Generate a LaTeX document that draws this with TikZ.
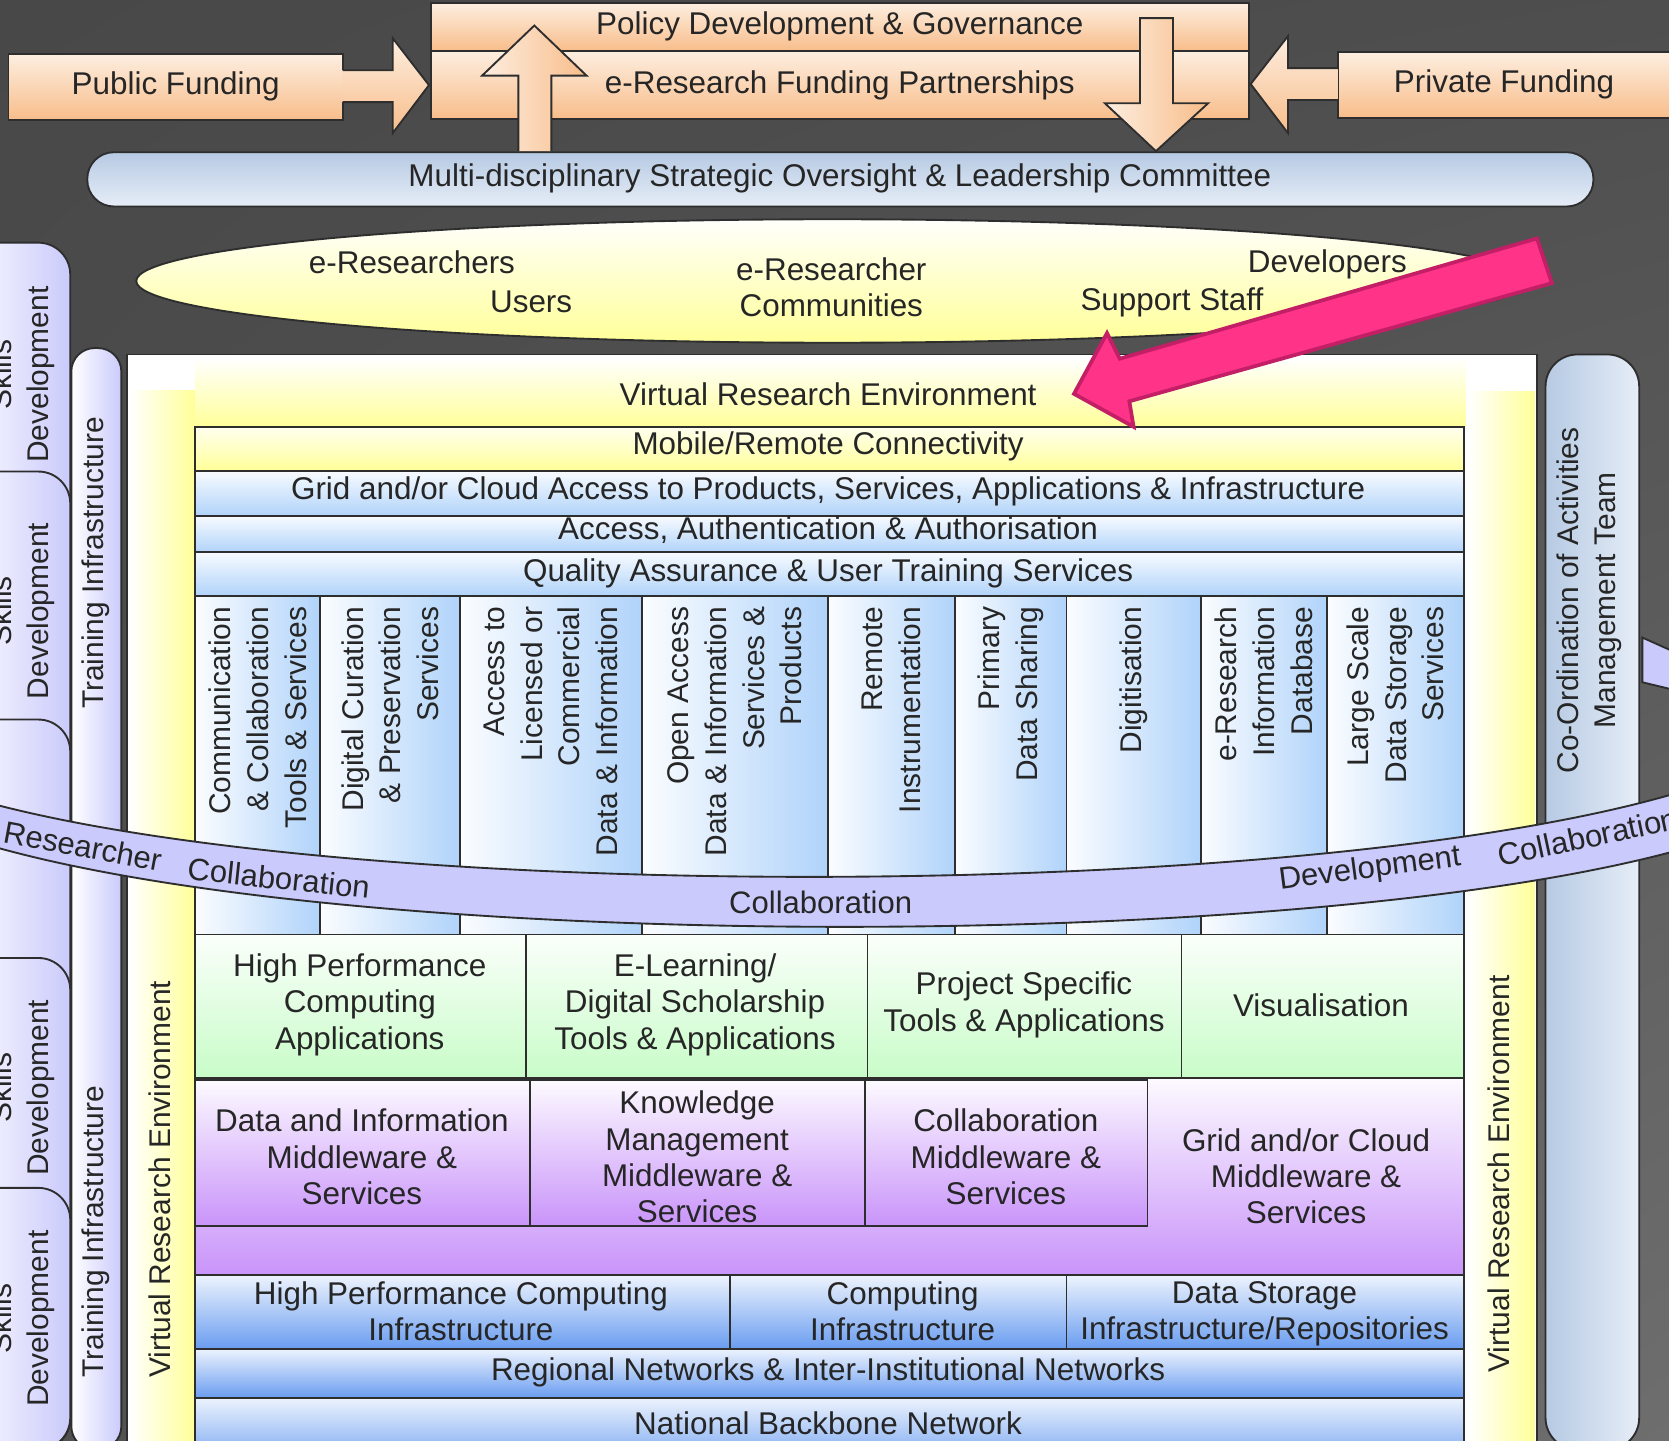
\documentclass[tikz,border=0pt]{standalone}
\usepackage{fontspec}
\setmainfont{Liberation Sans}
\usetikzlibrary{positioning, shadings}

\definecolor{bgdark}{HTML}{484848}
\definecolor{bgpale}{HTML}{6E6E6E}
\definecolor{peach}{HTML}{F8BD8A}
\definecolor{peachlight}{HTML}{FDEEE0}
\definecolor{steel}{HTML}{B6CAE3}
\definecolor{steellight}{HTML}{E6EDF7}
\definecolor{lemon}{HTML}{FFFF99}
\definecolor{sky}{HTML}{B0D3FA}
\definecolor{mint}{HTML}{C8FCC8}
\definecolor{lilac}{HTML}{C994FA}
\definecolor{cobalt}{HTML}{6A9DF0}
\definecolor{lavender}{HTML}{CACAFC}
\definecolor{hotpink}{HTML}{FF3388}
\definecolor{hotpinkdark}{HTML}{C21F66}
\definecolor{ink}{HTML}{262626}
\definecolor{edge}{HTML}{2E2E2E}

\newcommand{\boxfont}{\fontsize{8.4}{9.7}\selectfont}
\newcommand{\colfont}{\fontsize{8}{10.1}\selectfont}
\newcommand{\bandfont}{\fontsize{8.3}{9.7}\selectfont}

\begin{document}
\begin{tikzpicture}[
    x=0.1mm, y=-0.1mm,
    font=\boxfont, text=ink,
    edged/.style={draw=edge, line width=0.5pt},
    peachbox/.style={edged, top color=peachlight, bottom color=peach},
    steelbar/.style={edged, top color=steel, bottom color=steellight},
    lemonbox/.style={edged, top color=white!85!lemon, bottom color=lemon},
    skybox/.style={edged, top color=white!90!sky, bottom color=sky},
    colbox/.style={edged, left color=white!95!sky, right color=sky},
    mintbox/.style={edged, top color=white!92!mint, bottom color=mint},
    lilacbox/.style={edged, top color=white!95!lilac, bottom color=lilac},
    cobaltbox/.style={edged, top color=white!88!cobalt, bottom color=cobalt},
    lavstrip/.style={edged, left color=white, right color=lavender},
    boxtext/.style={align=center, inner sep=1pt},
    collabel/.style={rotate=90, anchor=east, align=right, font=\colfont, inner sep=1pt},
    sidelabel/.style={rotate=90, align=center, font=\colfont, inner sep=1pt},
    bandlabel/.style={font=\bandfont, inner sep=0pt}
]
    \useasboundingbox (0,0) rectangle (1568,1353);
    % --- Background ---
    \shade[upper left=bgdark, upper right=bgdark!85!bgpale,
           lower left=bgdark!80!bgpale, lower right=bgpale] (0,0) rectangle (1568,1353);

    % --- Skills development tabs and training strip (left) ---
    \foreach \ytop in {228,443,676,900,1116} {
        \draw[lavstrip, rounded corners=3mm] (-40,\ytop) rectangle (66,1362);
    }
    \node[sidelabel] (skills1) at (21,352) {Skills\\Development};
    \node[sidelabel] (skills2) at (21,574) {Skills\\Development};
    \node[sidelabel] (skills4) at (21,1022) {Skills\\Development};
    \node[sidelabel] (skills5) at (21,1239) {Skills\\Development};
    \draw[lavstrip, rounded corners=2.2mm] (67,327) rectangle (114,1362);
    \node[sidelabel] (train1) at (90,529) {Training Infrastructure};
    \node[sidelabel] (train2) at (90,1157) {Training Infrastructure};

    % --- Co-ordination strip (right) ---
    \draw[edged, left color=steel, right color=steellight, rounded corners=3mm] (1452,333) rectangle (1540,1362);
    \node[sidelabel] (coord) at (1493,564) {Co-Ordination of Activities\\Management Team};
    \draw[edged, fill=lavender] (1543,599) -- (1572,612) -- (1572,648) -- (1543,641) -- cycle;

    % --- Virtual Research Environment frame ---
    \draw[edged, fill=white] (119,333) rectangle (1444,1380);
    \shade[top color=white, bottom color=lemon] (183,336) rectangle (1377,401);
    \shade[left color=white, right color=lemon] (121,367) rectangle (183,1380);
    \shade[left color=white, right color=lemon] (1379,368) rectangle (1442,1380);
    \node (vre) at (778,370) {Virtual Research Environment};
    \node[sidelabel] (vreleft) at (150,1108) {Virtual Research Environment};
    \node[sidelabel] (vreright) at (1408,1103) {Virtual Research Environment};

    % --- Horizontal service layers ---
    \draw[lemonbox] (183,401) rectangle (1375,442);
    \node (mobile) at (778,419) {Mobile/Remote Connectivity};
    \draw[skybox] (183,443) rectangle (1375,485);
    \node (gridaccess) at (778,462) {Grid and/or Cloud Access to Products, Services, Applications \& Infrastructure};
    \draw[skybox] (183,485) rectangle (1375,519);
    \node (auth) at (778,498) {Access, Authentication \& Authorisation};
    \draw[skybox] (183,519) rectangle (1375,560);
    \node (quality) at (778,539) {Quality Assurance \& User Training Services};

    % --- Vertical service columns ---
    \foreach \xa/\xb/\nm/\txt in {
        183/301/comms/{Communication\\\& Collaboration\\Tools \& Services},
        301/432/curation/{Digital Curation\\\& Preservation\\Services},
        432/603/licensed/{Access to\\Licensed or\\Commercial\\Data \& Information},
        603/778/openaccess/{Open Access\\Data \& Information\\Services \&\\Products},
        778/897/remote/{Remote\\Instrumentation},
        897/1002/primary/{Primary\\Data Sharing},
        1002/1128/digitise/{Digitisation},
        1128/1247/infodb/{e-Research\\Information\\Database},
        1247/1375/storage/{Large Scale\\Data Storage\\Services}} {
        \draw[colbox] (\xa,560) rectangle (\xb,878);
        \node[collabel] (\nm) at ({(\xa+\xb)/2},566) {\txt};
    }

    % --- Applications row ---
    \draw[mintbox] (183,878) rectangle (494,1013);
    \node[boxtext] (hpcapps) at (338,944) {High Performance\\Computing\\Applications};
    \draw[mintbox] (494,878) rectangle (815,1013);
    \node[boxtext] (elearn) at (653,944) {E-Learning/\\Digital Scholarship\\Tools \& Applications};
    \draw[mintbox] (815,878) rectangle (1110,1013);
    \node[boxtext] (project) at (962,944) {Project Specific\\Tools \& Applications};
    \draw[mintbox] (1110,878) rectangle (1375,1013);
    \node[boxtext] (visual) at (1241,944) {Visualisation};

    % --- Middleware row ---
    \draw[lilacbox] (183,1013) rectangle (1375,1198);
    \draw[lilacbox] (183,1015) rectangle (498,1152);
    \node[boxtext] (datamw) at (340,1087) {Data and Information\\Middleware \&\\Services};
    \draw[lilacbox] (498,1015) rectangle (813,1152);
    \node[boxtext] (knowmw) at (655,1087) {Knowledge\\Management\\Middleware \&\\Services};
    \draw[lilacbox] (813,1015) rectangle (1078,1152);
    \node[boxtext] (collabmw) at (945,1087) {Collaboration\\Middleware \&\\Services};
    \node[boxtext] (gridmw) at (1227,1105) {Grid and/or Cloud\\Middleware \&\\Services};

    % --- Infrastructure and networks ---
    \draw[cobaltbox] (183,1198) rectangle (686,1267);
    \node[boxtext] (hpcinfra) at (433,1232) {High Performance Computing\\Infrastructure};
    \draw[cobaltbox] (686,1198) rectangle (1002,1267);
    \node[boxtext] (compinfra) at (848,1232) {Computing\\Infrastructure};
    \draw[cobaltbox] (1002,1198) rectangle (1375,1267);
    \node[boxtext] (storinfra) at (1188,1234) {Data Storage\\Infrastructure/Repositories};
    \draw[cobaltbox] (183,1267) rectangle (1375,1313);
    \node (regional) at (778,1289) {Regional Networks \& Inter-Institutional Networks};
    \draw[cobaltbox] (183,1313) rectangle (1375,1380);
    \node (backbone) at (778,1337) {National Backbone Network};

    % --- Collaboration band across the picture ---
    \draw[edged, fill=lavender] (-4,756) .. controls (350,848) and (1218,848) .. (1572,746)
        -- (1572,800) .. controls (1218,895) and (350,895) .. (-4,796) -- cycle;
    \node[bandlabel, rotate=-10.5] (bandres) at (78,795) {Researcher};
    \node[bandlabel, rotate=-6] (bandcol1) at (262,825) {Collaboration};
    \node[bandlabel] (bandcol2) at (771,848) {Collaboration};
    \node[bandlabel, rotate=7.5] (banddev) at (1287,817) {Development};
    \node[bandlabel, rotate=12] (bandcol3) at (1492,786) {Collaboration};

    % --- Funding and governance (top) ---
    \draw[peachbox] (405,3) rectangle (1173,48);
    \node (policy) at (789,25) {Policy Development \& Governance};
    \draw[peachbox] (405,48) rectangle (1173,112);
    \node (partner) at (789,80) {e-Research Funding Partnerships};
    \draw[peachbox] (8,51) rectangle (322,113);
    \node (public) at (165,81) {Public Funding};
    \draw[peachbox] (1257,49) rectangle (1580,111);
    \node (private) at (1413,79) {Private Funding};

    \draw[steelbar, rounded corners=2.5mm] (82,143) rectangle (1497,194);
    \node (cttee) at (789,168) {Multi-disciplinary Strategic Oversight \& Leadership Committee};

    % block arrows
    \draw[edged, top color=peachlight, bottom color=peach]
        (322,66) -- (369,66) -- (369,36) -- (403,80) -- (369,125) -- (369,96) -- (322,96);
    \draw[edged, top color=peachlight, bottom color=peach]
        (1257,64) -- (1210,64) -- (1210,34) -- (1175,79) -- (1210,125) -- (1210,94) -- (1257,94);
    \draw[edged, left color=peachlight, right color=peach]
        (487,142) -- (487,71) -- (453,71) -- (502,24) -- (551,71) -- (518,71) -- (518,142);
    \draw[edged, left color=peachlight, right color=peach]
        (1071,17) -- (1071,97) -- (1038,97) -- (1086,142) -- (1135,97) -- (1102,97) -- (1102,17) -- cycle;

    % --- Stakeholders ellipse ---
    \draw[edged, top color=white!97!lemon, bottom color=lemon] (782,264) ellipse [x radius=654, y radius=58];
    \node (eres) at (387,246) {e-Researchers};
    \node (users) at (499,284) {Users};
    \node[boxtext] (ecomm) at (781,270) {e-Researcher\\Communities};
    \node (devs) at (1247,248) {Developers};
    \node (staff) at (1101,284) {Support Staff};

    % pointer arrow
    \draw[draw=hotpinkdark, fill=hotpink, line width=1pt]
        (1444,224) -- (1052,337) -- (1040,313) -- (1009,370) -- (1065,401) -- (1061,377) -- (1458,266) -- cycle;
\end{tikzpicture}
\end{document}
